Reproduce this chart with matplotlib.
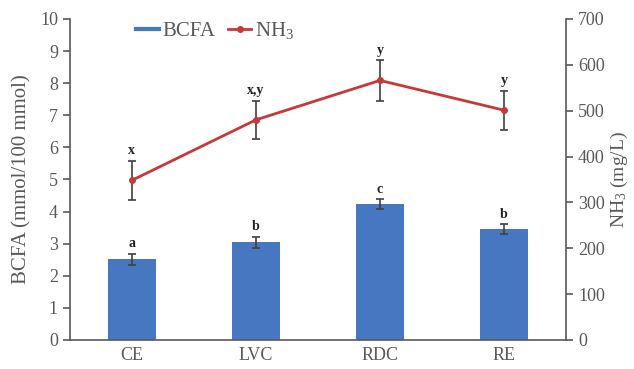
import numpy as np
import matplotlib.pyplot as plt
from matplotlib.lines import Line2D

# Data
groups = ['CE', 'LVC', 'RDC', 'RE']
bcfa = [2.51, 3.05, 4.23, 3.45]
bcfa_err = [0.17, 0.17, 0.15, 0.15]
bcfa_letters = ['a', 'b', 'c', 'b']
nh3 = [348, 480, 566, 501]
nh3_err = [42, 42, 44, 43]
nh3_letters = ['x', 'x,y', 'y', 'y']

plt.rcParams['font.family'] = ['Liberation Serif', 'DejaVu Serif']
plt.rcParams['mathtext.fontset'] = 'custom'
plt.rcParams['mathtext.rm'] = 'Liberation Serif'
plt.rcParams['mathtext.it'] = 'Liberation Serif:italic'
plt.rcParams['mathtext.bf'] = 'Liberation Serif:bold'
grey = '#595959'
blue = '#4777C1'
red = '#C8373A'

fig = plt.figure(figsize=(6.34, 3.69), dpi=100)
ax = fig.add_axes([0.110, 0.0786, 0.783, 0.870])
ax2 = ax.twinx()

x = np.arange(len(groups))
ax.bar(x, bcfa, width=0.39, color=blue, label='BCFA', zorder=2)
ax.errorbar(x, bcfa, yerr=bcfa_err, fmt='none', ecolor='#404040', elinewidth=1.2,
            capsize=3, capthick=1.2, zorder=3)
for xi, v, e, t in zip(x, bcfa, bcfa_err, bcfa_letters):
    ax.text(xi, v + e + 0.12, t, ha='center', va='bottom', fontsize=10,
            fontweight='bold', color='#222222')

ax2.plot(x, nh3, color=red, lw=2, marker='o', ms=4, label='NH$_\\mathregular{3}$', zorder=3)
ax2.errorbar(x, nh3, yerr=nh3_err, fmt='none', ecolor='#404040', elinewidth=1.2,
             capsize=3, capthick=1.2, zorder=2)
for xi, v, e, t in zip(x, nh3, nh3_err, nh3_letters):
    ax2.text(xi, v + e + 8, t, ha='center', va='bottom', fontsize=10,
             fontweight='bold', color='#222222')

ax.set_xlim(-0.5, 3.5)
ax.set_ylim(0, 10)
ax.set_yticks(range(0, 11))
ax2.set_ylim(0, 700)
ax2.set_yticks(range(0, 701, 100))

ax.set_xticks(x)
ax.set_xticklabels(groups)
ax.set_ylabel('BCFA (mmol/100 mmol)', fontsize=15, color=grey, labelpad=6)
ax2.set_ylabel('NH$_\\mathregular{3}$ (mg/L)', fontsize=14, color=grey, labelpad=3)

for a in (ax, ax2):
    a.spines['top'].set_visible(False)
    a.tick_params(axis='y', labelsize=13, labelcolor=grey, color=grey, length=5, width=1.2)
ax.spines['right'].set_visible(False)
ax2.spines['left'].set_visible(False)
ax2.spines['bottom'].set_visible(False)
for s in (ax.spines['left'], ax.spines['bottom'], ax2.spines['right']):
    s.set_color(grey)
    s.set_linewidth(1.2)
ax.tick_params(axis='x', length=0, labelsize=13, labelcolor=grey, pad=5)

h2, l2 = ax2.get_legend_handles_labels()
h1 = [Line2D([0], [0], color=blue, lw=3)]
ax.legend(h1 + h2, ['BCFA'] + l2, loc='upper left', bbox_to_anchor=(0.095, 1.055), ncol=2,
          frameon=False, fontsize=15, handlelength=1.1, handletextpad=0.2,
          columnspacing=0.6, labelcolor=grey)

fig.savefig('out.png', dpi=100)
